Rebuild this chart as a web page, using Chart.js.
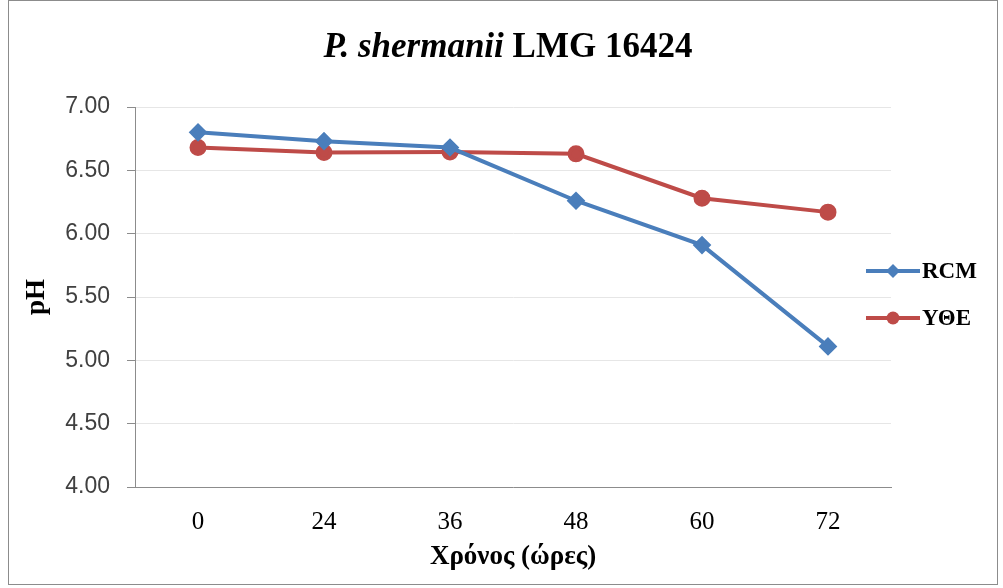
<!DOCTYPE html>
<html>
<head>
<meta charset="utf-8">
<script src="https://cdn.jsdelivr.net/npm/chart.js@4"></script>
<style>
  html, body { margin: 0; padding: 0; background: #fff; }
  #wrap { width: 1003px; height: 588px; }
</style>
</head>
<body>
<div id="wrap"><canvas id="myChart" width="1003" height="588"></canvas></div>
<script>
var ctx = document.getElementById('myChart').getContext('2d');

const hours = ['0', '24', '36', '48', '60', '72'];
const rcm = [6.80, 6.73, 6.68, 6.26, 5.91, 5.11];
const yte = [6.68, 6.64, 6.645, 6.63, 6.28, 6.17];
const yTicks = [4.00, 4.50, 5.00, 5.50, 6.00, 6.50, 7.00];

const blue = '#4a7ebb';
const red = '#be4b48';

// frame, title and the legend (line + marker, like the original)
const extras = {
    id: 'extras',
    afterDraw(chart) {
        const c = chart.ctx;
        c.save();
        c.strokeStyle = '#8c8c8c';
        c.lineWidth = 1;
        c.strokeRect(8.5, 0.5, 989, 584);

        // title
        const part1 = 'P. shermanii';
        const part2 = ' LMG 16424';
        c.fillStyle = '#000';
        c.textBaseline = 'middle';
        c.font = 'italic bold 35px "Liberation Serif"';
        const w1 = c.measureText(part1).width;
        c.font = 'bold 35px "Liberation Serif"';
        const w2 = c.measureText(part2).width;
        let x = 508 - (w1 + w2) / 2;
        c.font = 'italic bold 35px "Liberation Serif"';
        c.fillText(part1, x, 48);
        c.font = 'bold 35px "Liberation Serif"';
        c.fillText(part2, x + w1, 48);

        // legend
        chart.data.datasets.forEach(function (ds, i) {
            const y = 271 + i * 47;
            c.strokeStyle = ds.borderColor;
            c.lineWidth = 4;
            c.beginPath();
            c.moveTo(866, y);
            c.lineTo(920, y);
            c.stroke();
            c.fillStyle = ds.borderColor;
            c.beginPath();
            if (ds.pointStyle === 'rectRot') {
                c.moveTo(893, y - 7); c.lineTo(900, y); c.lineTo(893, y + 7); c.lineTo(886, y);
                c.closePath();
            } else {
                c.arc(893, y, 6.5, 0, Math.PI * 2);
            }
            c.fill();
            c.fillStyle = '#000';
            c.font = 'bold 23px "Liberation Serif"';
            c.textBaseline = 'middle';
            c.fillText(ds.label, 922, y + 1);
        });
        c.restore();
    }
};

var myChart = new Chart(ctx, {
    type: 'line',
    data: {
        labels: hours,
        datasets: [{
            label: 'RCM',
            data: rcm,
            borderColor: blue,
            backgroundColor: blue,
            borderWidth: 4,
            pointStyle: 'rectRot',
            pointRadius: 6.5,
            pointHoverRadius: 6.5,
            tension: 0
        }, {
            label: 'ΥΘΕ',
            data: yte,
            borderColor: red,
            backgroundColor: red,
            borderWidth: 4,
            pointStyle: 'circle',
            pointRadius: 6.5,
            pointHoverRadius: 6.5,
            tension: 0
        }]
    },
    options: {
        responsive: false,
        animation: false,
        layout: { padding: { left: 12, right: 112, top: 107, bottom: 0 } },
        plugins: {
            legend: { display: false },
            title: { display: false },
            tooltip: { enabled: false }
        },
        scales: {
            x: {
                offset: true,
                afterFit: function (scale) { scale.height = 101; },
                grid: { display: false, drawTicks: false },
                border: { color: '#8c8c8c', width: 1 },
                ticks: {
                    color: '#000',
                    padding: 20,
                    font: { family: 'Liberation Serif', size: 25 }
                },
                title: {
                    display: true,
                    text: 'Χρόνος (ώρες)',
                    color: '#000',
                    padding: { top: 0, bottom: 15 },
                    font: { family: 'Liberation Serif', size: 27, weight: 'bold' }
                }
            },
            y: {
                min: 4,
                max: 7,
                afterBuildTicks: function (scale) {
                    scale.ticks = yTicks.map(function (v) { return { value: v }; });
                },
                afterFit: function (scale) { scale.width = 123; },
                grid: { color: '#e6e6e6', lineWidth: 1, tickLength: 8, drawTicks: true, tickColor: '#8c8c8c' },
                border: { color: '#8c8c8c', width: 1 },
                ticks: {
                    color: '#404040',
                    padding: 17,
                    font: { family: 'Liberation Sans', size: 23 },
                    callback: function (v) { return Number(v).toFixed(2); }
                },
                title: {
                    display: true,
                    text: 'pH',
                    color: '#000',
                    padding: { top: 9, bottom: 0 },
                    font: { family: 'Liberation Serif', size: 27, weight: 'bold' }
                }
            }
        }
    },
    plugins: [extras]
});
</script>
</body>
</html>
